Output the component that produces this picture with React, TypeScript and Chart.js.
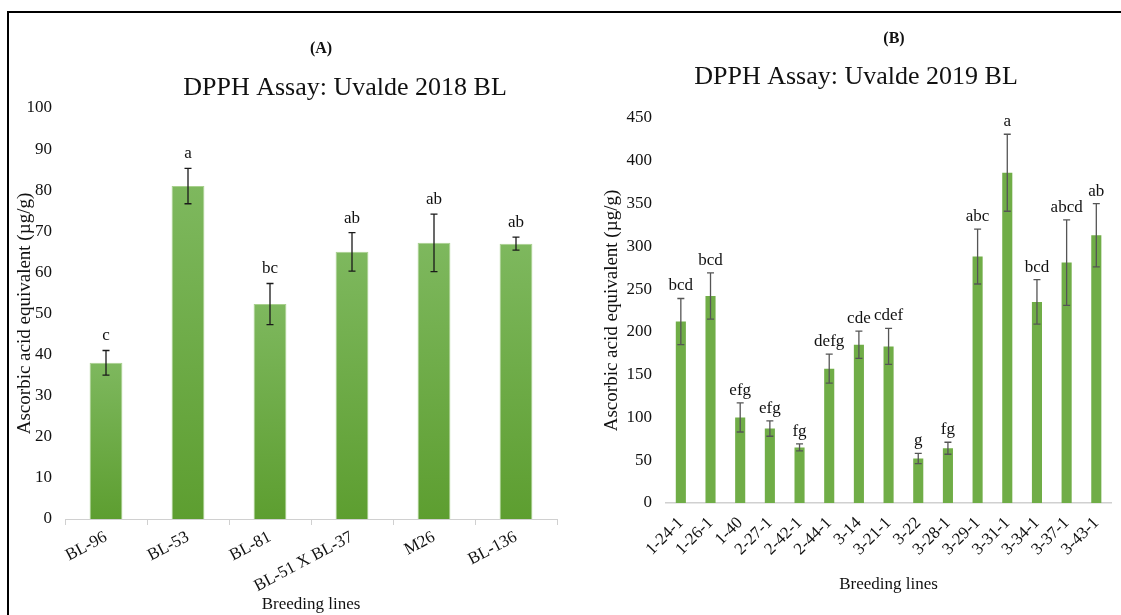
import React, { useEffect, useRef } from 'react';
import { Chart, registerables } from 'chart.js';

Chart.register(...registerables);

// ---------- Data ----------
const linesA = ['BL-96', 'BL-53', 'BL-81', 'BL-51 X BL-37', 'M26', 'BL-136'];
const meansA = [38, 81, 52.3, 65, 67.2, 67];
const errorsA = [3, 4.3, 5, 4.7, 7, 1.6];
const lettersA = ['c', 'a', 'bc', 'ab', 'ab', 'ab'];

const linesB = ['1-24-1', '1-26-1', '1-40', '2-27-1', '2-42-1', '2-44-1', '3-14', '3-21-1', '3-22', '3-28-1', '3-29-1', '3-31-1', '3-34-1', '3-37-1', '3-43-1'];
const meansB = [212, 242, 100, 87, 65, 157, 185, 183, 52, 64, 288, 386, 235, 281, 313];
const errorsB = [27, 27, 17, 9, 4, 17, 16, 21, 6, 7, 32, 45, 26, 50, 37];
const lettersB = ['bcd', 'bcd', 'efg', 'efg', 'fg', 'defg', 'cde', 'cdef', 'g', 'fg', 'abc', 'a', 'bcd', 'abcd', 'ab'];

const axisA = { min: 0, max: 100, step: 10 };
const axisB = { min: 0, max: 450, step: 50 };

const FONT = "'Liberation Serif', 'Times New Roman', serif";
const TEXT = '#111111';
const YTITLE = 'Ascorbic acid equivalent (µg/g)';
const XTITLE = 'Breeding lines';

function errLettersPlugin(errors: number[], letters: string[], color: string, cap: number, gap: number, size: number) {
  return {
    id: 'errLetters',
    afterDatasetsDraw(chart: any) {
      const ctx = chart.ctx;
      const meta = chart.getDatasetMeta(0);
      const ys = chart.scales.y;
      const data = chart.data.datasets[0].data as number[];
      ctx.save();
      ctx.strokeStyle = color;
      ctx.lineWidth = 1.3;
      meta.data.forEach((bar: any, i: number) => {
        const x = bar.x;
        const yt = ys.getPixelForValue(data[i] + errors[i]);
        const yb = ys.getPixelForValue(data[i] - errors[i]);
        ctx.beginPath();
        ctx.moveTo(x, yt);
        ctx.lineTo(x, yb);
        ctx.moveTo(x - cap / 2, yt);
        ctx.lineTo(x + cap / 2, yt);
        ctx.moveTo(x - cap / 2, yb);
        ctx.lineTo(x + cap / 2, yb);
        ctx.stroke();
        ctx.fillStyle = TEXT;
        ctx.font = `${size}px ${FONT}`;
        ctx.textAlign = 'center';
        ctx.textBaseline = 'bottom';
        ctx.fillText(letters[i], x, yt - gap);
      });
      ctx.restore();
    },
  };
}

function headerPlugin(tag: string, tagX: number, tagY: number, title: string, titleX: number, titleY: number) {
  return {
    id: 'header',
    afterDraw(chart: any) {
      const ctx = chart.ctx;
      ctx.save();
      ctx.fillStyle = TEXT;
      ctx.textAlign = 'center';
      ctx.textBaseline = 'middle';
      ctx.font = `bold 16px ${FONT}`;
      ctx.fillText(tag, tagX, tagY);
      ctx.font = `26px ${FONT}`;
      ctx.fillText(title, titleX, titleY);
      ctx.restore();
    },
  };
}

function PanelA() {
  const ref = useRef<HTMLCanvasElement>(null);
  useEffect(() => {
    const chart = new Chart(ref.current as HTMLCanvasElement, {
      type: 'bar',
      data: {
        labels: linesA,
        datasets: [
          {
            data: meansA,
            backgroundColor: (c: any) => {
              const ch = c.chart;
              if (!ch.chartArea || c.raw == null) return '#70ad47';
              const ys = ch.scales.y;
              const top = ys.getPixelForValue(c.raw);
              const bot = ys.getPixelForValue(0);
              const g = ch.ctx.createLinearGradient(0, top, 0, bot);
              g.addColorStop(0, '#7eb85e');
              g.addColorStop(1, '#5d9e30');
              return g;
            },
            borderColor: '#a8d08d',
            borderWidth: 1,
            barPercentage: 0.4,
            categoryPercentage: 1,
          },
        ],
      },
      options: {
        responsive: false,
        animation: false,
        layout: { padding: { left: 8, right: 3, top: 108, bottom: 0 } },
        plugins: { legend: { display: false }, tooltip: { enabled: false } },
        scales: {
          x: {
            grid: { display: true, drawOnChartArea: false, drawTicks: true, tickLength: 6, color: '#d0d0d0', offset: true },
            border: { display: true, color: '#d0d0d0', width: 1 },
            ticks: { minRotation: 28, maxRotation: 28, autoSkip: false, padding: 2, color: TEXT, font: { size: 17, family: FONT } },
            title: { display: true, text: XTITLE, color: TEXT, font: { size: 17, family: FONT }, padding: { top: 0, bottom: 0 } },
            afterFit: (s: any) => { s.height = 96; },
          },
          y: {
            min: axisA.min,
            max: axisA.max,
            grid: { display: false, drawTicks: false },
            border: { display: false },
            ticks: { stepSize: axisA.step, padding: 13, color: TEXT, font: { size: 17, family: FONT } },
            title: { display: true, text: YTITLE, color: TEXT, font: { size: 19, family: FONT }, padding: { top: 6, bottom: 0 } },
            afterFit: (s: any) => { s.width = 57; },
          },
        },
      },
      plugins: [
        errLettersPlugin(errorsA, lettersA, '#1a1a1a', 7, 6, 17),
        headerPlugin('(A)', 321, 49, 'DPPH Assay: Uvalde 2018 BL', 345, 88),
      ],
    } as any);
    return () => chart.destroy();
  }, []);
  return <canvas ref={ref} width={560} height={615} style={{ position: 'absolute', left: 0, top: 0 }} />;
}

function PanelB() {
  const ref = useRef<HTMLCanvasElement>(null);
  useEffect(() => {
    const chart = new Chart(ref.current as HTMLCanvasElement, {
      type: 'bar',
      data: {
        labels: linesB,
        datasets: [
          {
            data: meansB,
            backgroundColor: '#70ad47',
            borderWidth: 0,
            barPercentage: 0.34,
            categoryPercentage: 1,
          },
        ],
      },
      options: {
        responsive: false,
        animation: false,
        layout: { padding: { left: 0, right: 8, top: 118, bottom: 0 } },
        plugins: { legend: { display: false }, tooltip: { enabled: false } },
        scales: {
          x: {
            grid: { display: false, drawTicks: false },
            border: { display: true, color: '#d0d0d0', width: 1.5 },
            ticks: { minRotation: 45, maxRotation: 45, autoSkip: false, padding: 10, color: TEXT, font: { size: 17, family: FONT } },
            title: { display: true, text: XTITLE, color: TEXT, font: { size: 17, family: FONT }, padding: { top: 0, bottom: 20 } },
            afterFit: (s: any) => { s.height = 112; },
          },
          y: {
            min: axisB.min,
            max: axisB.max,
            grid: { display: false, drawTicks: false },
            border: { display: false },
            ticks: { stepSize: axisB.step, padding: 14, color: TEXT, font: { size: 17, family: FONT } },
            title: { display: true, text: YTITLE, color: TEXT, font: { size: 19, family: FONT }, padding: { top: 41, bottom: 0 } },
            afterFit: (s: any) => { s.width = 106; },
          },
        },
      },
      plugins: [
        errLettersPlugin(errorsB, lettersB, '#555555', 7, 4, 17),
        headerPlugin('(B)', 334, 39, 'DPPH Assay: Uvalde 2019 BL', 296, 77),
      ],
    } as any);
    return () => chart.destroy();
  }, []);
  return <canvas ref={ref} width={561} height={615} style={{ position: 'absolute', left: 560, top: 0 }} />;
}

export default function App() {
  useEffect(() => {
    document.body.style.margin = '0';
    document.body.style.background = '#ffffff';
  }, []);
  return (
    <div style={{ position: 'relative', width: 1121, height: 615, overflow: 'hidden', background: '#fff' }}>
      <PanelA />
      <PanelB />
      <div
        style={{
          position: 'absolute',
          left: 7,
          top: 11,
          width: 1121,
          height: 615,
          borderTop: '2px solid #000',
          borderLeft: '2px solid #000',
          boxSizing: 'border-box',
          pointerEvents: 'none',
        }}
      />
    </div>
  );
}
